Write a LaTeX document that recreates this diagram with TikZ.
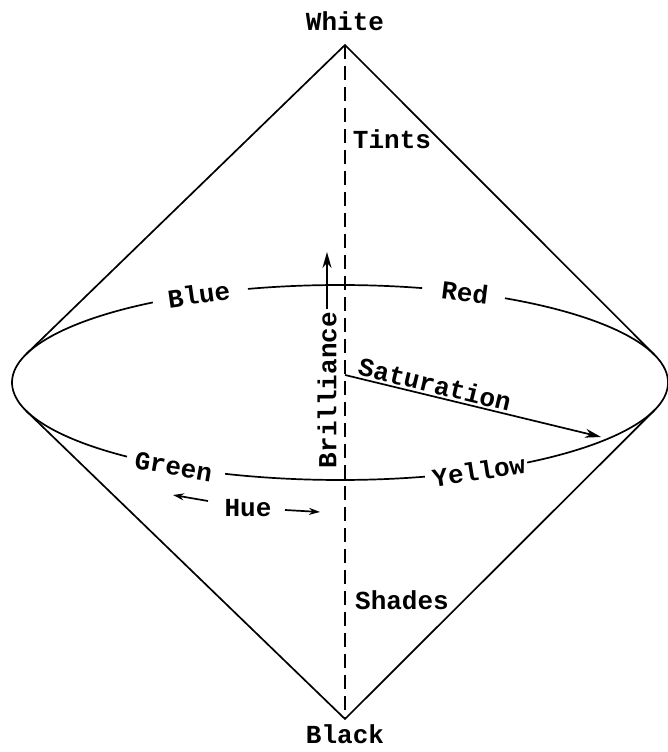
\documentclass[tikz,border=0pt]{standalone}
\usepackage{fontspec}
\setmonofont{Liberation Mono}
\usetikzlibrary{arrows.meta,positioning}

\begin{document}
\begin{tikzpicture}[x=1pt,y=1pt,line width=1.7pt,
  lbl/.style={font=\ttfamily\bfseries\fontsize{26}{30}\selectfont,inner sep=2pt},
  axisline/.style={dash pattern=on 14pt off 7pt},
  tip/.style={-{Stealth[length=16pt,width=9pt]}},
  smalltip/.style={-{Stealth[length=11pt,width=7pt]}}]
\useasboundingbox (0,0) rectangle (668,752);
\coordinate (top) at (345,707); \coordinate (bot) at (345,33); \coordinate (c) at (340,369.5);
\coordinate (lup) at ([shift={(162.96:328 and 97.5)}]c); \coordinate (ldn) at ([shift={(196.94:328 and 97.5)}]c);
\coordinate (rup) at ([shift={(16.54:328 and 97.5)}]c); \coordinate (rdn) at ([shift={(343.56:328 and 97.5)}]c);
\draw (lup) -- (top) -- (rup); \draw (ldn) -- (bot) -- (rdn);
\draw[axisline] (top) -- (bot);
\foreach \a/\b in {0/59.8,75.5/106.3,124.8/229.5,249.5/285,304.8/360}
  \draw ([shift={(\a:328 and 97.5)}]c) arc[start angle=\a,end angle=\b,x radius=328,y radius=97.5];
\node[lbl,above=11pt of top] (white) {White};
\node[lbl,below=3pt of bot] (black) {Black};
\node[lbl,rotate=8] (blue) at ([shift={(115.5:328 and 97.5)}]c) {Blue};
\node[lbl,rotate=-7] (red) at ([shift={(67.6:328 and 97.5)}]c) {Red};
\node[lbl,rotate=-10] (green) at ([shift={(239.5:328 and 97.5)}]c) {Green};
\node[lbl,rotate=9] (yellow) at ([shift={(295:328 and 97.5)}]c) {Yellow};
\node[lbl] (tints) at (392,613) {Tints};
\node[lbl] (shades) at (402,152) {Shades};
\node[lbl,rotate=90] (brill) at (327,362) {Brilliance};
\coordinate (btip) at (327,500);
\draw[tip] (brill) -- (btip);
\coordinate (s0) at (345,377); \coordinate (s1) at (601,315);
\draw[tip] (s0) -- (s1) node[lbl,sloped,above,pos=0.34] (sat) {Saturation};
\node[lbl] (hue) at (248,244) {Hue};
\coordinate (hl0) at (208,251); \coordinate (hl1) at (173,257);
\coordinate (hr0) at (285,242); \coordinate (hr1) at (320,240);
\draw[smalltip] (hl0) -- (hl1); \draw[smalltip] (hr0) -- (hr1);
\end{tikzpicture}
\end{document}
